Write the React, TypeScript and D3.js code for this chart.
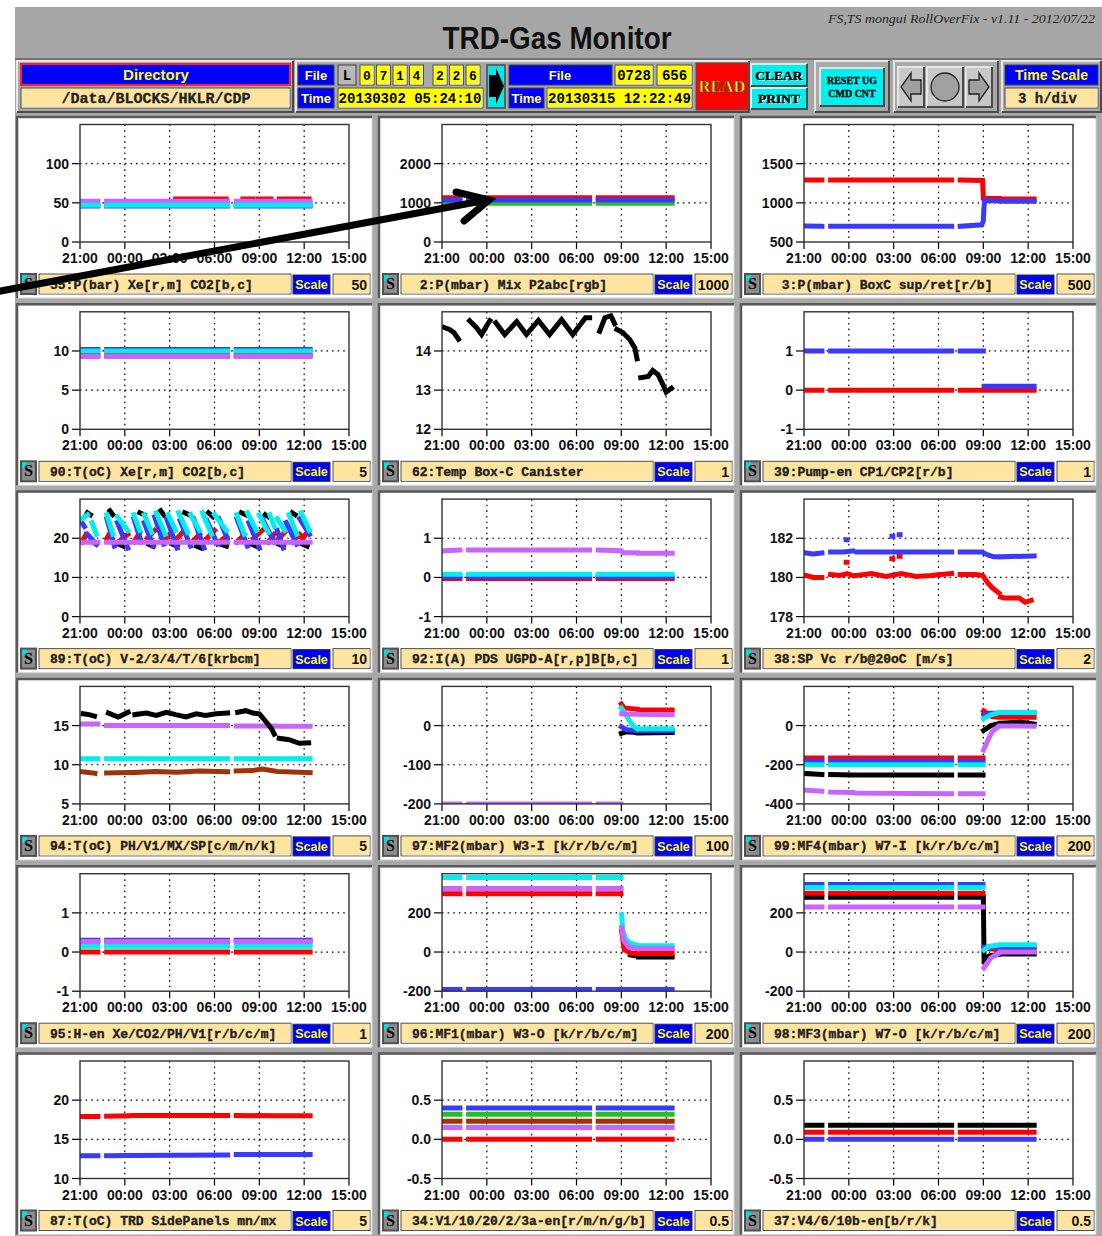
import React from "react";
import * as d3 from "d3";

type P = [number, number] | null;

const X_TICK_HOURS = [0, 3, 6, 9, 12, 15, 18];
const X_TICK_LABELS = ["21:00", "00:00", "03:00", "06:00", "09:00", "12:00", "15:00"];
const SEGMENTS: [number, number][] = [[0.13, 1.2], [1.78, 3.25], [3.55, 9.88], [10.45, 13.05], [13.15, 15.4]];

const COLORS: Record<string, string> = {
  r: "#ff0000", b: "#3a3aff", c: "#00eeee", m: "#c864ff", g: "#22c022", k: "#000000", n: "#a0320a",
};

function levels(vals: number[]): P[] {
  const out: P[] = [];
  SEGMENTS.forEach(([s, e], i) => { out.push([s, vals[i]], [e, vals[i]], null); });
  return out;
}

const PANEL_TITLES = [
  "55:P(bar) Xe[r,m] CO2[b,c]",
  " 2:P(mbar) Mix P2abc[rgb]",
  " 3:P(mbar) BoxC sup/ret[r/b]",
  "90:T(oC) Xe[r,m] CO2[b,c]",
  "62:Temp Box-C Canister",
  "39:Pump-en CP1/CP2[r/b]",
  "89:T(oC) V-2/3/4/T/6[krbcm]",
  "92:I(A) PDS UGPD-A[r,p]B[b,c]",
  "38:SP Vc r/b@20oC [m/s]",
  "94:T(oC) PH/V1/MX/SP[c/m/n/k]",
  "97:MF2(mbar) W3-I [k/r/b/c/m]",
  "99:MF4(mbar) W7-I [k/r/b/c/m]",
  "95:H-en Xe/CO2/PH/V1[r/b/c/m]",
  "96:MF1(mbar) W3-O [k/r/b/c/m]",
  "98:MF3(mbar) W7-O [k/r/b/c/m]",
  "87:T(oC) TRD SidePanels mn/mx",
  "34:V1/10/20/2/3a-en[r/m/n/g/b]",
  "37:V4/6/10b-en[b/r/k]",
];
const PANEL_SCALES = ["50", "1000", "500", "5", "1", "1", "10", "1", "2", "5", "100", "200", "1", "200", "200", "5", "0.5", "0.5"];
const PANEL_DOMAINS: [number, number][] = [
  [0, 150], [0, 3000], [500, 2000], [0, 15], [12, 15], [-1, 2], [0, 30], [-1, 2], [178, 184],
  [5, 20], [-200, 100], [-400, 200], [-1, 2], [-200, 400], [-200, 400], [10, 25], [-0.5, 1], [-0.5, 1],
];
const PANEL_YTICKS: number[][] = [
  [0, 50, 100], [0, 1000, 2000], [500, 1000, 1500], [0, 5, 10], [12, 13, 14], [-1, 0, 1], [0, 10, 20], [-1, 0, 1], [178, 180, 182],
  [5, 10, 15], [-200, -100, 0], [-400, -200, 0], [-1, 0, 1], [-200, 0, 200], [-200, 0, 200], [10, 15, 20], [-0.5, 0, 0.5], [-0.5, 0, 0.5],
];
const PANEL_YTICK_LABELS: string[][] = [
  ["0", "50", "100"], ["0", "1000", "2000"], ["500", "1000", "1500"], ["0", "5", "10"], ["12", "13", "14"], ["-1", "0", "1"],
  ["0", "10", "20"], ["-1", "0", "1"], ["178", "180", "182"], ["5", "10", "15"], ["-200", "-100", "0"], ["-400", "-200", "0"],
  ["-1", "0", "1"], ["-200", "0", "200"], ["-200", "0", "200"], ["10", "15", "20"], ["-0.5", "0.0", "0.5"], ["-0.5", "0.0", "0.5"],
];

// ---- panel 55 ----
const P55_R: P[] = [[6.4, 55], [7.78, 55], null, [7.95, 55], [8.2, 55], null, [8.45, 55], [9.78, 55], null, [10.9, 55], [11.55, 55], null, [11.9, 55], [12.78, 55], null, [13.33, 55], [15.33, 55]];
const P55_M: P[] = levels([52, 52, 52, 52, 52]);
const P55_B: P[] = levels([46, 46, 46, 46, 46]);
const P55_C: P[] = levels([47, 47, 47, 47, 47]);
// ---- panel 2 ----
const P2_R: P[] = levels([1130, 1130, 1130, 1130, 1130]);
const P2_G: P[] = levels([990, 990, 990, 990, 990]);
const P2_B: P[] = levels([1070, 1070, 1070, 1070, 1070]);
// ---- panel 3 ----
const P3_R: P[] = [[0.13, 1290], [1.2, 1290], null, [1.78, 1290], [3.25, 1290], null, [3.55, 1290], [9.88, 1290], null, [10.45, 1290], [11.95, 1285], [12.0, 1060], [13.05, 1055], null, [13.15, 1050], [15.4, 1050]];
const P3_B: P[] = [[0.13, 705], [1.2, 700], null, [1.78, 700], [3.25, 700], null, [3.55, 700], [9.88, 700], null, [10.45, 700], [11.9, 720], [12.0, 770], [12.03, 900], [12.08, 1030], [13.05, 1025], null, [13.15, 1020], [15.4, 1020]];
// ---- panel 90 ----
const P90_R: P[] = levels([9.5, 9.5, 9.5, 9.5, 9.5]);
const P90_M: P[] = levels([9.3, 9.3, 9.3, 9.3, 9.3]);
const P90_B: P[] = levels([10.2, 10.2, 10.2, 10.2, 10.2]);
const P90_C: P[] = levels([10.0, 10.0, 10.0, 10.0, 10.0]);
// ---- panel 62 ----
const P62_K: P[] = [
  [0.15, 14.6], [0.5, 14.55], [0.8, 14.47], [1.1, 14.3], null,
  [1.85, 14.77], [2.3, 14.6], [2.65, 14.42], [3.0, 14.65], [3.2, 14.77], null,
  [3.6, 14.72], [4.2, 14.42], [5.0, 14.75], [5.65, 14.42], [6.45, 14.78], [7.2, 14.42], [8.0, 14.8], [8.75, 14.42], [9.6, 14.85], [9.88, 14.85], null,
  [10.55, 14.5], [10.9, 14.85], [11.3, 14.9], [11.55, 14.7], null,
  [11.7, 14.55], [12.1, 14.47], [12.55, 14.3], [12.9, 14.08], [13.05, 13.8], null,
  [13.3, 13.32], [13.8, 13.35], [14.1, 13.5], [14.45, 13.4], [14.8, 13.13], [15.0, 12.95], [15.35, 13.05],
];
// ---- panel 39 ----
const P39_R: P[] = levels([0, 0, 0, 0, 0]);
const P39_B: P[] = [[0.13, 1], [1.2, 1], null, [1.78, 1], [3.25, 1], null, [3.55, 1], [9.88, 1], null, [10.45, 1], [12.0, 1], null, [12.05, 0.1], [13.05, 0.1], null, [13.15, 0.1], [15.4, 0.1]];
// ---- panel 89 ----
const P89_K: P[] = [[0.5, 26.5], [0.7, 26], null, [0.9, 19], [1.1, 18.5], null, [2.0, 27], [2.2, 26], null, [2.6, 18.5], [2.9, 18], null, [4.0, 26.5], [4.3, 26], null, [4.6, 18.5], [4.9, 18], null, [5.4, 27], [5.6, 26], null, [6.2, 18.5], [6.5, 18], null, [7.0, 26.5], [7.3, 26], null, [7.8, 18], [8.1, 17.5], null, [8.6, 26.5], [8.9, 25.5], null, [9.4, 18.5], [9.8, 18], null, [10.8, 26.5], [11.1, 26], null, [11.5, 18.5], [11.8, 18], null, [12.4, 26], [12.6, 25.5], null, [13.3, 18.5], [13.6, 18], null, [14.2, 26.5], [14.4, 26], null, [14.9, 18.5], [15.2, 18]];
const P89_R: P[] = [[0.13, 19], [0.4, 21], null, [1.8, 20], [2.1, 22], null, [2.7, 19.5], [3.2, 21], null, [3.6, 19], [4.0, 21.5], null, [4.5, 20], [5.0, 22], null, [5.5, 19], [6.0, 21], null, [6.5, 20], [7.0, 22], null, [7.5, 19], [8.0, 21], null, [8.5, 20], [9.0, 22], null, [9.3, 19], [9.8, 20.5], null, [10.5, 19], [11.0, 21], null, [11.6, 20], [12.2, 22], null, [12.6, 19], [13.0, 21], null, [13.2, 19.5], [13.7, 21.5], null, [14.2, 19], [14.7, 21], null, [14.9, 20], [15.3, 22]];
const P89_B: P[] = [[0.13, 24], [0.3, 23], null, [0.5, 21], [1.1, 18.5], null, [1.8, 25], [2.3, 18], null, [2.5, 24], [3.2, 17.5], null, [3.6, 25], [4.1, 19], null, [4.3, 24], [4.9, 18], null, [5.0, 25.5], [5.6, 18.5], null, [5.8, 25], [6.5, 17.5], null, [6.7, 24.5], [7.4, 18], null, [7.6, 25], [8.3, 17.5], null, [8.5, 24.5], [9.2, 18.5], null, [9.3, 25], [9.85, 20], null, [10.5, 25], [11.2, 18], null, [11.3, 24], [12.0, 17.5], null, [12.2, 25], [13.0, 19], null, [13.2, 22], [13.6, 17.5], null, [13.8, 24], [14.5, 18.5], null, [14.7, 25], [15.35, 21]];
const P89_C: P[] = [[0.13, 25], [0.5, 26], null, [0.8, 24], [1.1, 21], null, [1.8, 26], [2.2, 21], null, [2.5, 25.5], [3.2, 22], null, [3.6, 26], [4.0, 22], null, [4.3, 26], [4.8, 21.5], null, [5.1, 26.5], [5.7, 21], null, [5.9, 26], [6.4, 22], null, [6.6, 26.5], [7.2, 21.5], null, [7.4, 26], [8.0, 22], null, [8.2, 26.5], [8.8, 21], null, [9.0, 26], [9.8, 22], null, [10.5, 26], [11.0, 21], null, [11.2, 26.5], [11.8, 22], null, [12.0, 26], [12.6, 21.5], null, [12.7, 26], [13.0, 23], null, [13.2, 25], [13.7, 22], null, [14.0, 26], [14.5, 21], null, [14.8, 26.5], [15.35, 22]];
const P89_M: P[] = levels([19, 19, 19, 19, 19]);
// ---- panel 92 ----
const P92_R: P[] = levels([-0.03, -0.03, -0.03, -0.03, -0.03]);
const P92_P: P[] = [[0.13, 0.68], [1.2, 0.7], null, [1.78, 0.7], [3.25, 0.7], null, [3.55, 0.7], [9.88, 0.7], null, [10.45, 0.7], [12.0, 0.68], [12.1, 0.63], [13.05, 0.63], null, [13.15, 0.62], [15.4, 0.62]];
const P92_B: P[] = levels([0.02, 0.02, 0.02, 0.02, 0.02]);
const P92_C: P[] = levels([0.08, 0.08, 0.08, 0.08, 0.08]);
// ---- panel 38 ----
const P38_R: P[] = [[0.15, 180.1], [0.6, 180.0], [1.2, 180.0], null, [1.78, 180.15], [2.4, 180.1], [2.9, 180.2], [3.25, 180.1], null, [3.55, 180.1], [4.5, 180.2], [5.5, 180.05], [6.5, 180.2], [7.5, 180.05], [8.5, 180.1], [9.88, 180.2], null, [10.45, 180.15], [11.5, 180.15], [11.96, 180.1], [12.3, 179.72], [12.6, 179.47], [13.05, 179.2], null, [13.15, 179.0], [13.4, 178.95], [14.4, 178.95], [14.8, 178.73], [15.2, 178.83], null, [2.82, 180.77], [2.88, 180.77], null, [5.88, 180.95], [5.94, 180.95], null, [6.37, 181.08], [6.43, 181.08]];
const P38_B: P[] = [[0.15, 181.25], [0.6, 181.2], [1.2, 181.25], null, [1.78, 181.3], [2.6, 181.3], [3.25, 181.35], null, [3.55, 181.3], [9.88, 181.3], null, [10.45, 181.3], [11.9, 181.3], [12.3, 181.15], [12.7, 181.05], [13.05, 181.05], null, [13.15, 181.05], [15.4, 181.1], null, [2.82, 181.93], [2.88, 181.93], null, [5.88, 182.1], [5.94, 182.1], null, [6.37, 182.18], [6.43, 182.18]];
// ---- panel 94 ----
const P94_C: P[] = levels([10.75, 10.75, 10.75, 10.75, 10.75]);
const P94_M: P[] = levels([15.2, 15.0, 15.0, 14.95, 14.9]);
const P94_N: P[] = [[0.13, 9.1], [1.0, 8.9], null, [1.78, 8.95], [3.25, 9.0], null, [3.55, 9.0], [5.0, 9.15], [6.5, 9.05], [8.0, 9.2], [9.88, 9.1], null, [10.45, 9.2], [11.5, 9.25], [12.2, 9.45], [13.0, 9.2], null, [13.15, 9.15], [15.4, 9.0]];
const P94_K: P[] = [[0.22, 16.5], [0.6, 16.4], [0.97, 16.2], null, [1.9, 16.6], [2.56, 16.1], [3.22, 16.7], null, [3.67, 16.4], [4.44, 16.6], [5.1, 16.3], [5.78, 16.7], [6.4, 16.4], [7.1, 16.1], [7.78, 16.5], [8.4, 16.3], [9.1, 16.5], [9.88, 16.6], null, [10.55, 16.7], [11.1, 16.9], [11.56, 16.6], [12.0, 16.5], [12.44, 15.5], [12.8, 14.65], [13.0, 13.9], null, [13.33, 13.37], [14.0, 13.2], [14.67, 12.74], [15.3, 12.8]];
// ---- panel 97 ----
const P97_K: P[] = [[12.0, -20], [12.3, -16], [13.05, -18], null, [13.15, -19], [15.4, -18]];
const P97_R: P[] = [[12.0, 55], [12.2, 45], [13.05, 42], null, [13.15, 40], [15.4, 40]];
const P97_B: P[] = [[12.0, -3], [12.3, -10], [13.05, -13], null, [13.15, -13], [15.4, -13]];
const P97_C: P[] = [[12.0, 45], [12.3, 27], [12.75, 1], [13.05, -8], null, [13.15, -8], [15.4, -8]];
const P97_M: P[] = [[0.13, -200], [1.2, -200], null, [1.78, -200], [3.25, -200], null, [3.55, -200], [9.88, -200], null, [10.45, -200], [11.98, -200], null, [12.03, 30], [13.05, 29], null, [13.15, 29], [15.4, 28]];
// ---- panel 99 ----
const P99_K: P[] = [[0.13, -245], [1.2, -250], null, [1.78, -250], [3.25, -252], null, [3.55, -252], [9.88, -252], null, [10.45, -252], [11.98, -252], null, [12.02, -25], [12.5, 0], [13.05, 10], null, [13.15, 12], [14.5, 18], [15.4, 8]];
const P99_R: P[] = [[0.13, -165], [1.2, -165], null, [1.78, -165], [3.25, -165], null, [3.55, -165], [9.88, -165], null, [10.45, -165], [11.98, -165], null, [12.02, 75], [12.3, 60], [12.6, 45], [13.05, 43], null, [13.15, 43], [15.4, 43]];
const P99_B: P[] = [[0.13, -182], [1.2, -182], null, [1.78, -182], [3.25, -182], null, [3.55, -182], [9.88, -182], null, [10.45, -182], [11.98, -182], null, [12.02, 55], [12.4, 63], [13.05, 65], null, [13.15, 65], [15.4, 65]];
const P99_C: P[] = [[0.13, -200], [1.2, -200], null, [1.78, -200], [3.25, -200], null, [3.55, -200], [9.88, -200], null, [10.45, -200], [11.98, -200], null, [12.02, 35], [12.5, 55], [13.0, 65], null, [13.15, 67], [15.4, 67]];
const P99_M: P[] = [[0.13, -330], [1.2, -335], null, [1.78, -340], [3.25, -342], null, [3.55, -345], [9.88, -348], null, [10.45, -348], [11.98, -348], null, [12.02, -125], [12.3, -75], [12.6, -30], [13.0, -5], null, [13.15, -2], [15.4, -3]];
// ---- panel 95 ----
const P95_R: P[] = levels([0.0, 0.0, 0.0, 0.0, 0.0]);
const P95_B: P[] = levels([0.3, 0.3, 0.3, 0.3, 0.3]);
const P95_C: P[] = levels([0.15, 0.15, 0.15, 0.15, 0.15]);
const P95_M: P[] = levels([0.27, 0.27, 0.27, 0.27, 0.27]);
// ---- panel 96 ----
const P96_K: P[] = [[12.6, -15], [13.05, -20], null, [13.15, -25], [15.4, -25]];
const P96_R: P[] = [[0.13, 297], [1.2, 297], null, [1.78, 297], [3.25, 297], null, [3.55, 297], [9.88, 297], null, [10.45, 297], [11.98, 297], null, [12.02, 105], [12.2, 12], [12.6, -5], [13.05, -8], null, [13.15, -8], [15.4, -8]];
const P96_B: P[] = levels([-191, -191, -191, -191, -191]);
const P96_C: P[] = [[0.13, 380], [1.2, 380], null, [1.78, 380], [3.25, 380], null, [3.55, 380], [9.88, 380], null, [10.45, 380], [11.98, 380], null, [12.02, 190], [12.1, 110], [12.3, 65], [12.6, 45], [13.05, 35], null, [13.15, 32], [15.4, 32]];
const P96_M: P[] = [[0.13, 325], [1.2, 325], null, [1.78, 325], [3.25, 325], null, [3.55, 325], [9.88, 325], null, [10.45, 325], [11.98, 325], null, [12.02, 125], [12.15, 60], [12.5, 25], [13.05, 18], null, [13.15, 18], [15.4, 18]];
// ---- panel 98 ----
const P98_K: P[] = [[0.13, 280], [1.2, 280], null, [1.78, 280], [3.25, 280], null, [3.55, 280], [9.88, 280], null, [10.45, 280], [12.0, 280], [12.05, -40], [12.4, -20], [13.05, -12], null, [13.15, -10], [15.4, -10]];
const P98_R: P[] = [[0.13, 300], [1.2, 300], null, [1.78, 300], [3.25, 300], null, [3.55, 300], [9.88, 300], null, [10.45, 300], [11.98, 300], null, [12.05, 20], [13.05, 12], null, [13.15, 10], [15.4, 10]];
const P98_B: P[] = [[0.13, 345], [1.2, 345], null, [1.78, 345], [3.25, 345], null, [3.55, 345], [9.88, 345], null, [10.45, 345], [11.98, 345], null, [12.05, 25], [13.05, 25], null, [13.15, 25], [15.4, 25]];
const P98_C: P[] = [[0.13, 330], [1.2, 330], null, [1.78, 330], [3.25, 330], null, [3.55, 330], [9.88, 330], null, [10.45, 330], [11.98, 330], null, [12.05, 10], [12.4, 30], [13.05, 36], null, [13.15, 37], [15.4, 37]];
const P98_M: P[] = [[0.13, 230], [1.2, 230], null, [1.78, 230], [3.25, 230], null, [3.55, 230], [9.88, 230], null, [10.45, 230], [11.98, 230], null, [12.05, -80], [12.5, -30], [13.05, -5], null, [13.15, 0], [15.4, 0]];
// ---- panel 87 ----
const P87_R: P[] = [[0.13, 17.9], [1.2, 17.9], null, [1.78, 17.95], [3.25, 18.0], null, [3.55, 18.05], [9.88, 18.05], null, [10.45, 18.05], [13.05, 18.0], null, [13.15, 18.0], [15.4, 18.0]];
const P87_B: P[] = [[0.13, 12.9], [1.2, 12.9], null, [1.78, 12.9], [3.25, 12.95], null, [3.55, 12.95], [9.88, 13.0], null, [10.45, 13.05], [13.05, 13.05], null, [13.15, 13.05], [15.4, 13.05]];
// ---- panel 34 ----
const P34_R: P[] = levels([0, 0, 0, 0, 0]);
const P34_M: P[] = levels([0.15, 0.15, 0.15, 0.15, 0.15]);
const P34_N: P[] = levels([0.23, 0.23, 0.23, 0.23, 0.23]);
const P34_G: P[] = levels([0.32, 0.32, 0.32, 0.32, 0.32]);
const P34_B: P[] = levels([0.4, 0.4, 0.4, 0.4, 0.4]);
// ---- panel 37 ----
const P37_B: P[] = levels([0, 0, 0, 0, 0]);
const P37_R: P[] = levels([0.09, 0.09, 0.09, 0.09, 0.09]);
const P37_K: P[] = levels([0.18, 0.18, 0.18, 0.18, 0.18]);

type Series = { key: string; pts: P[] };
const PANEL_SERIES: Series[][] = [
  [{ key: "r", pts: P55_R }, { key: "m", pts: P55_M }, { key: "b", pts: P55_B }, { key: "c", pts: P55_C }],
  [{ key: "r", pts: P2_R }, { key: "g", pts: P2_G }, { key: "b", pts: P2_B }],
  [{ key: "r", pts: P3_R }, { key: "b", pts: P3_B }],
  [{ key: "r", pts: P90_R }, { key: "m", pts: P90_M }, { key: "b", pts: P90_B }, { key: "c", pts: P90_C }],
  [{ key: "k", pts: P62_K }],
  [{ key: "r", pts: P39_R }, { key: "b", pts: P39_B }],
  [{ key: "k", pts: P89_K }, { key: "r", pts: P89_R }, { key: "b", pts: P89_B }, { key: "c", pts: P89_C }, { key: "m", pts: P89_M }],
  [{ key: "r", pts: P92_R }, { key: "m", pts: P92_P }, { key: "b", pts: P92_B }, { key: "c", pts: P92_C }],
  [{ key: "r", pts: P38_R }, { key: "b", pts: P38_B }],
  [{ key: "c", pts: P94_C }, { key: "m", pts: P94_M }, { key: "n", pts: P94_N }, { key: "k", pts: P94_K }],
  [{ key: "k", pts: P97_K }, { key: "r", pts: P97_R }, { key: "b", pts: P97_B }, { key: "c", pts: P97_C }, { key: "m", pts: P97_M }],
  [{ key: "k", pts: P99_K }, { key: "r", pts: P99_R }, { key: "b", pts: P99_B }, { key: "c", pts: P99_C }, { key: "m", pts: P99_M }],
  [{ key: "r", pts: P95_R }, { key: "b", pts: P95_B }, { key: "c", pts: P95_C }, { key: "m", pts: P95_M }],
  [{ key: "k", pts: P96_K }, { key: "r", pts: P96_R }, { key: "b", pts: P96_B }, { key: "c", pts: P96_C }, { key: "m", pts: P96_M }],
  [{ key: "k", pts: P98_K }, { key: "r", pts: P98_R }, { key: "b", pts: P98_B }, { key: "c", pts: P98_C }, { key: "m", pts: P98_M }],
  [{ key: "r", pts: P87_R }, { key: "b", pts: P87_B }],
  [{ key: "r", pts: P34_R }, { key: "m", pts: P34_M }, { key: "n", pts: P34_N }, { key: "g", pts: P34_G }, { key: "b", pts: P34_B }],
  [{ key: "b", pts: P37_B }, { key: "r", pts: P37_R }, { key: "k", pts: P37_K }],
];

const MONO = "'Liberation Mono', 'DejaVu Sans Mono', monospace";
const SANS = "'Liberation Sans', Arial, sans-serif";
const SERIF = "'Liberation Serif', 'DejaVu Serif', serif";

function Sunken({ x, y, w, h, fill }: { x: number; y: number; w: number; h: number; fill: string }) {
  return (
    <g>
      <rect x={x} y={y} width={w} height={h} fill={fill} stroke="#505050" strokeWidth={1} />
      <path d={`M${x + 1},${y + h - 1} H${x + w - 1} V${y + 1}`} fill="none" stroke="#e8e8e8" strokeWidth={1} />
    </g>
  );
}

function Raised({ x, y, w, h, fill = "#a9a9a9" }: { x: number; y: number; w: number; h: number; fill?: string }) {
  return (
    <g>
      <rect x={x} y={y} width={w} height={h} fill={fill} />
      <path d={`M${x + 1},${y + h - 1} V${y + 1} H${x + w - 1}`} fill="none" stroke="#e6e6e6" strokeWidth={2} />
      <path d={`M${x + 1},${y + h - 1} H${x + w - 1} V${y + 1}`} fill="none" stroke="#4a4a4a" strokeWidth={2} />
    </g>
  );
}

function Panel({ idx }: { idx: number }) {
  const col = idx % 3;
  const row = Math.floor(idx / 3);
  const x0 = 15 + col * 362;
  const y0 = 115 + row * 187.3;
  const L = x0 + 65, R = x0 + 334, T = y0 + 9.5, B = y0 + 127;
  const xs = d3.scaleLinear().domain([0, 18]).range([L, R]);
  const ys = d3.scaleLinear().domain(PANEL_DOMAINS[idx]).range([B, T]);
  const line = d3.line<P>().defined((d) => d !== null).x((d) => xs((d as [number, number])[0])).y((d) => ys((d as [number, number])[1]));
  const clipId = `clip${idx}`;
  const ticks = PANEL_YTICKS[idx];
  return (
    <g>
      <rect x={x0} y={y0} width={360} height={186} fill="#a9a9a9" />
      <rect x={x0 + 3} y={y0 + 3} width={354} height={180} fill="#ffffff" />
      <path d={`M${x0 + 2},${y0 + 183} V${y0 + 2} H${x0 + 357}`} fill="none" stroke="#5a5a5a" strokeWidth={2.5} />
      <path d={`M${x0 + 3},${y0 + 183} H${x0 + 357} V${y0 + 3}`} fill="none" stroke="#d8d8d8" strokeWidth={1} />
      <clipPath id={clipId}>
        <rect x={L} y={T} width={R - L} height={B - T} />
      </clipPath>
      {X_TICK_HOURS.slice(1, -1).map((h) => (
        <line key={"gx" + h} x1={xs(h)} x2={xs(h)} y1={T} y2={B} stroke="#000" strokeWidth={1.2} strokeDasharray="1.6,4" />
      ))}
      {ticks.slice(1).map((v) => (
        <line key={"gy" + v} x1={L} x2={R} y1={ys(v)} y2={ys(v)} stroke="#000" strokeWidth={1.2} strokeDasharray="1.6,4" />
      ))}
      {X_TICK_HOURS.map((h, i) => (
        <g key={"xt" + h}>
          <line x1={xs(h)} x2={xs(h)} y1={B} y2={B + 7} stroke="#000" strokeWidth={1.2} />
          <text x={xs(h)} y={B + 21} textAnchor="middle" fontFamily={SANS} fontWeight="bold" fontSize={14} fill="#111">{X_TICK_LABELS[i]}</text>
        </g>
      ))}
      {ticks.map((v, i) => (
        <g key={"yt" + v}>
          <line x1={L - 8} x2={L} y1={ys(v)} y2={ys(v)} stroke="#000" strokeWidth={1.2} />
          <text x={L - 11} y={ys(v) + 5} textAnchor="end" fontFamily={SANS} fontWeight="bold" fontSize={14} fill="#111">{PANEL_YTICK_LABELS[idx][i]}</text>
        </g>
      ))}
      <g clipPath={`url(#${clipId})`}>
        {PANEL_SERIES[idx].map((s, i) => (
          <path key={i} d={line(s.pts) || ""} fill="none" stroke={COLORS[s.key]} strokeWidth={5} strokeLinejoin="miter" strokeLinecap="square" />
        ))}
      </g>
      <rect x={L} y={T} width={R - L} height={B - T} fill="none" stroke="#333" strokeWidth={1.4} />
      <g>
        <rect x={x0 + 5} y={y0 + 158} width={17} height={22} fill="#505050" />
        <rect x={x0 + 7} y={y0 + 160} width={13} height={18} fill="#8c8c8c" />
        <rect x={x0 + 7} y={y0 + 160} width={5} height={6} fill="#00e0e0" />
        <text x={x0 + 13.5} y={y0 + 174} textAnchor="middle" fontFamily={SERIF} fontWeight="bold" fontSize={16} fill="#000">S</text>
      </g>
      <Sunken x={x0 + 24} y={y0 + 159} w={252} h={20} fill="#ffe4a0" />
      <text x={x0 + 35} y={y0 + 173.5} fontFamily={MONO} fontWeight="bold" fontSize={13} fill="#202020" stroke="#202020" strokeWidth={0.35} style={{ whiteSpace: "pre" }}>{PANEL_TITLES[idx]}</text>
      <rect x={x0 + 278} y={y0 + 160} width={37} height={19} fill="#0000ff" stroke="#303030" strokeWidth={1} />
      <text x={x0 + 296.5} y={y0 + 174} textAnchor="middle" fontFamily={SANS} fontWeight="bold" fontSize={12.5} fill="#ffff00">Scale</text>
      <Sunken x={x0 + 318} y={y0 + 159} w={37} h={20} fill="#ffe4a0" />
      <text x={x0 + 352} y={y0 + 174.5} textAnchor="end" fontFamily={SANS} fontWeight="bold" fontSize={14} fill="#111">{PANEL_SCALES[idx]}</text>
    </g>
  );
}

function ShadowText({ x, y, size, children }: { x: number; y: number; size: number; children: string }) {
  return (
    <g>
      <text x={x + 1} y={y + 1} textAnchor="middle" fontFamily={SERIF} fontWeight="bold" fontSize={size} fill="#ffffff">{children}</text>
      <text x={x} y={y} textAnchor="middle" fontFamily={SERIF} fontWeight="bold" fontSize={size} fill="#000" stroke="#000" strokeWidth={0.4}>{children}</text>
    </g>
  );
}

function Header() {
  const digits1 = ["0", "7", "1", "4"];
  const digits2 = ["2", "2", "6"];
  return (
    <g>
      <rect x={15} y={7} width={1087} height={106} fill="#a6a6a6" />
      <text x={557} y={49} textAnchor="middle" fontFamily={SANS} fontWeight="bold" fontSize={31} textLength={229} lengthAdjust="spacingAndGlyphs" fill="#111">TRD-Gas Monitor</text>
      <text x={1095} y={23} textAnchor="end" fontFamily={SERIF} fontStyle="italic" fontSize={13} textLength={267} lengthAdjust="spacingAndGlyphs" fill="#222">FS,TS mongui RollOverFix - v1.11 - 2012/07/22</text>
      <line x1={15} x2={1102} y1={59} y2={59} stroke="#606060" strokeWidth={1.5} />
      <Raised x={16} y={60} w={278} h={53} />
      <rect x={20} y={63} width={271} height={23} fill="#ff2020" />
      <rect x={22} y={65} width={267} height={19} fill="#0000ff" />
      <text x={156} y={80} textAnchor="middle" fontFamily={SANS} fontWeight="bold" fontSize={15} fill="#ffff00">Directory</text>
      <Sunken x={21} y={88} w={269} h={20} fill="#ffe4a0" />
      <text x={156} y={103} textAnchor="middle" fontFamily={MONO} fontWeight="bold" fontSize={15} fill="#222" stroke="#222" strokeWidth={0.3}>/Data/BLOCKS/HKLR/CDP</text>
      <Raised x={295} y={60} w={455} h={53} />
      <rect x={298} y={65} width={36} height={20} fill="#0000ff" stroke="#404040" />
      <text x={316} y={80} textAnchor="middle" fontFamily={SANS} fontWeight="bold" fontSize={13} fill="#ffff80">File</text>
      <rect x={338} y={65} width={18} height={20} fill="#b8b8b8" stroke="#404040" />
      <text x={347} y={80} textAnchor="middle" fontFamily={MONO} fontWeight="bold" fontSize={14} fill="#000">L</text>
      {digits1.map((d, i) => (
        <g key={"d1" + i}>
          <Sunken x={360 + i * 16.5} y={65} w={14} h={20} fill="#ffff00" />
          <text x={367 + i * 16.5} y={80} textAnchor="middle" fontFamily={MONO} fontWeight="bold" fontSize={13} fill="#000">{d}</text>
        </g>
      ))}
      {digits2.map((d, i) => (
        <g key={"d2" + i}>
          <Sunken x={433 + i * 16.5} y={65} w={14} h={20} fill="#ffff00" />
          <text x={440 + i * 16.5} y={80} textAnchor="middle" fontFamily={MONO} fontWeight="bold" fontSize={13} fill="#000">{d}</text>
        </g>
      ))}
      <rect x={298} y={88} width={36} height={20} fill="#0000ff" stroke="#404040" />
      <text x={316} y={103} textAnchor="middle" fontFamily={SANS} fontWeight="bold" fontSize={13} fill="#ffff80">Time</text>
      <Sunken x={338} y={88} w={145} h={20} fill="#ffff00" />
      <text x={410} y={103} textAnchor="middle" fontFamily={MONO} fontWeight="bold" fontSize={14} fill="#000">20130302 05:24:10</text>
      <rect x={486} y={64} width={20} height={45} fill="#606060" />
      <rect x={488} y={66} width={16} height={41} fill="#00e8e8" />
      <path d="M489,75 H496 V68 L504,86 L496,104 V97 H489 Z" fill="#000" />
      <rect x={509} y={65} width={103} height={20} fill="#0000ff" stroke="#404040" />
      <text x={560} y={80} textAnchor="middle" fontFamily={SANS} fontWeight="bold" fontSize={13} fill="#ffff80">File</text>
      <Sunken x={615} y={65} w={38} h={20} fill="#ffff00" />
      <text x={634} y={80} textAnchor="middle" fontFamily={MONO} fontWeight="bold" fontSize={14} fill="#000">0728</text>
      <Sunken x={657} y={65} w={35} h={20} fill="#ffff00" />
      <text x={674.5} y={80} textAnchor="middle" fontFamily={MONO} fontWeight="bold" fontSize={14} fill="#000">656</text>
      <rect x={509} y={88} width={35} height={20} fill="#0000ff" stroke="#404040" />
      <text x={526.5} y={103} textAnchor="middle" fontFamily={SANS} fontWeight="bold" fontSize={13} fill="#ffff80">Time</text>
      <Sunken x={547} y={88} w={145} h={20} fill="#ffff00" />
      <text x={619.5} y={103} textAnchor="middle" fontFamily={MONO} fontWeight="bold" fontSize={14} fill="#000">20130315 12:22:49</text>
      <rect x={696} y={63} width={52} height={47} fill="#ff0000" stroke="#505050" />
      <text x={722} y={92} textAnchor="middle" fontFamily={SERIF} fontWeight="bold" fontSize={16.5} fill="#ffff40" stroke="#6a4000" strokeWidth={0.7}>READ</text>
      <Raised x={750} y={63} w={58} h={24} fill="#00f0f0" />
      <ShadowText x={779} y={80} size={13.5}>CLEAR</ShadowText>
      <Raised x={750} y={87} w={58} h={23} fill="#00f0f0" />
      <ShadowText x={779} y={103} size={13.5}>PRINT</ShadowText>
      <Raised x={814} y={60} w={76} h={53} />
      <Raised x={819} y={67} w={66} h={40} fill="#00f0f0" />
      <text x={852} y={84} textAnchor="middle" fontFamily={SERIF} fontWeight="bold" fontSize={10} fill="#000" stroke="#000" strokeWidth={0.3}>RESET UG</text>
      <text x={852} y={97} textAnchor="middle" fontFamily={SERIF} fontWeight="bold" fontSize={10} fill="#000" stroke="#000" strokeWidth={0.3}>CMD CNT</text>
      <Raised x={893} y={60} w={106} h={53} />
      <Raised x={897} y={66} w={28} h={42} fill="#c8c8c8" />
      <path d="M901,87 L911,73 V80 H921 V94 H911 V101 Z" fill="#a0a0a0" stroke="#202020" strokeWidth={1.3} />
      <Raised x={926} y={66} w={38} h={42} fill="#c8c8c8" />
      <circle cx={945} cy={87} r={14} fill="#a0a0a0" stroke="#202020" strokeWidth={1.3} />
      <Raised x={965} y={66} w={28} h={42} fill="#c8c8c8" />
      <path d="M989,87 L979,73 V80 H969 V94 H979 V101 Z" fill="#a0a0a0" stroke="#202020" strokeWidth={1.3} />
      <Raised x={1001} y={60} w={101} h={53} />
      <rect x={1005} y={65} width={93} height={20} fill="#0000ff" stroke="#404040" />
      <text x={1051.5} y={80} textAnchor="middle" fontFamily={SANS} fontWeight="bold" fontSize={14} fill="#ffff00">Time Scale</text>
      <Sunken x={1005} y={88} w={93} h={20} fill="#ffe4a0" />
      <text x={1018} y={103} fontFamily={MONO} fontWeight="bold" fontSize={14} fill="#222" stroke="#222" strokeWidth={0.3}>3 h/div</text>
    </g>
  );
}

export default function App() {
  return (
    <svg width={1102} height={1236} style={{ position: "absolute", left: 0, top: 0, background: "#ffffff" }}>
      <Header />
      <rect x={15} y={113} width={1087} height={1123} fill="#a9a9a9" />
      {PANEL_TITLES.map((_, i) => <Panel key={i} idx={i} />)}
      <line x1={-5} y1={292} x2={487} y2={200} stroke="#000" strokeWidth={7} />
      <polyline points="456,192 489,200 464,221" fill="none" stroke="#000" strokeWidth={7} strokeLinecap="round" strokeLinejoin="miter" />
    </svg>
  );
}
